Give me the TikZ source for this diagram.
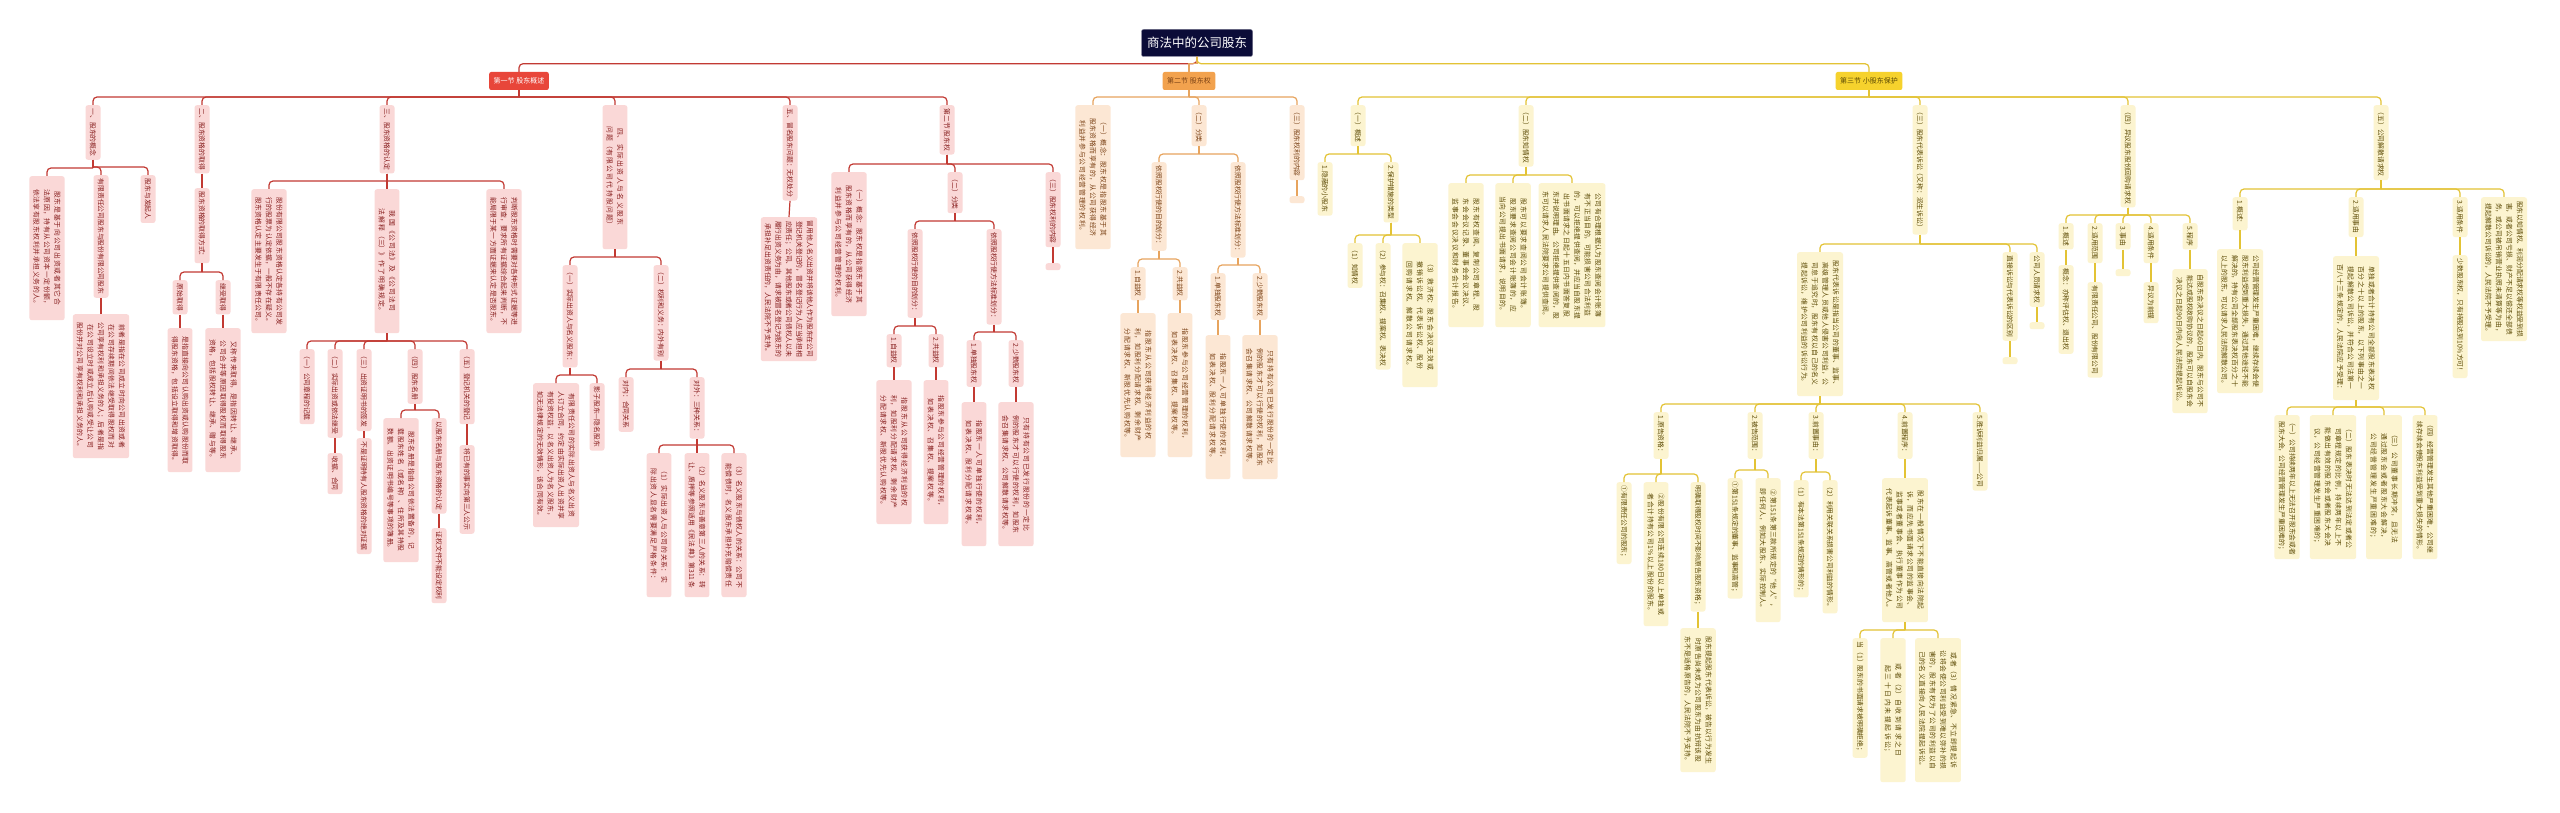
\documentclass[tikz,border=0pt]{standalone}
\usepackage{fontspec}
\setmainfont{Noto Sans CJK SC}
\XeTeXlinebreaklocale "zh"
\XeTeXlinebreakskip=0pt plus 1pt
\definecolor{pkF}{HTML}{FAD8D7}
\definecolor{pkT}{HTML}{861C1C}
\definecolor{rlC}{HTML}{C23A33}
\definecolor{h1F}{HTML}{E8463A}
\definecolor{ogF}{HTML}{FCE7D4}
\definecolor{ogT}{HTML}{7A4115}
\definecolor{olC}{HTML}{E7A45E}
\definecolor{h2F}{HTML}{F2A24E}
\definecolor{ylF}{HTML}{FCF4D0}
\definecolor{ylT}{HTML}{5C4A05}
\definecolor{ylC}{HTML}{E3C335}
\definecolor{h3F}{HTML}{F6D22D}
\definecolor{rootF}{HTML}{0B0C38}
\tikzset{
  nb/.style={rotate=-90, anchor=west, rounded corners=2.5pt, inner xsep=3.5pt, inner ysep=4pt,
    minimum height=15pt, font=\fontsize{6.8}{10.5}\selectfont},
  wide/.style={text width=137pt, align=center},
  pk/.style={nb, fill=pkF, text=pkT}, pkw/.style={pk, wide},
  og/.style={nb, fill=ogF, text=ogT}, ogw/.style={og, wide},
  yl/.style={nb, fill=ylF, text=ylT}, ylw/.style={yl, wide},
  hd/.style={rounded corners=2pt, inner xsep=4.5pt, inner ysep=3pt, minimum height=18pt,
    font=\fontsize{7}{8}\selectfont},
  rl/.style={draw=rlC, line width=1.2pt},
  oll/.style={draw=olC, line width=1.2pt},
  yll/.style={draw=ylC, line width=1.2pt},
}
\newcommand\lnk[3][rl]{%
  \coordinate (tmpb) at ([yshift=8pt]#3.west);
  \draw[#1] (#2) -- (#2 |- tmpb);
  \draw[#1, rounded corners=4pt] (#2 |- tmpb) -| (#3.west);}
\newcommand\lnks[3][rl]{\draw[#1] (#2) -- (#3.west);}
\newcommand\secTwo[4]{%
  \node[#2] (c1) at (1093,105) {（一）概念：股东权是指股东基于其股东资格而享有的，从公司获得经济利益并参与公司经营管理的权利。};
  \node[#1] (c2) at (1199,105) {（二）分类};
  \node[#1] (c3) at (1297,105) {（三）股东权利的内容};
  \node[#1] (c3e) at (1297,196) {};
  \node[#1] (c21) at (1159,162) {依照股权行使的目的划分：};
  \node[#1] (c22) at (1238,162) {依照股权行使方法标准划分：};
  \node[#1] (c211) at (1138,267) {1.自益权};
  \node[#2] (c211a) at (1138,313) {指股东从公司获得经济利益的权利，如股利分配请求权、剩余财产分配请求权、新股优先认购权等。};
  \node[#1] (c212) at (1180,267) {2.共益权};
  \node[#2] (c212a) at (1180,313) {指股东参与公司经营管理的权利，如表决权、召集权、提案权等。};
  \node[#1] (c221) at (1218,273) {1.单独股东权};
  \node[#2] (c221a) at (1218,335) {指股东一人可单独行使的权利，如表决权、股利分配请求权等。};
  \node[#1] (c222) at (1260,273) {2.少数股东权};
  \node[#2] (c222a) at (1260,335) {只有持有公司已发行股份的一定比例的股东才可以行使的权利，如股东会召集请求权、公司解散请求权等。};
  \lnk[#3]{top.#4}{c1}\lnk[#3]{top.#4}{c2}\lnk[#3]{top.#4}{c3}
  \lnks[#3]{c3.east}{c3e}
  \lnk[#3]{c2.east}{c21}\lnk[#3]{c2.east}{c22}
  \lnk[#3]{c21.east}{c211}\lnk[#3]{c21.east}{c212}
  \lnk[#3]{c22.east}{c221}\lnk[#3]{c22.east}{c222}
  \lnks[#3]{c211.east}{c211a}\lnks[#3]{c212.east}{c212a}
  \lnks[#3]{c221.east}{c221a}\lnks[#3]{c222.east}{c222a}
}
\begin{document}
\begin{tikzpicture}[x=1pt,y=-1pt]
\fill[white] (0,0) rectangle (2560,813);
\useasboundingbox (0,0) rectangle (2560,813);

% root and section headers
\node[rounded corners=2pt, fill=rootF, draw=rootF!60!white, text=white, inner xsep=5.5pt,
  minimum height=27pt, font=\fontsize{12.5}{14}\selectfont] (root) at (1197,43) {商法中的公司股东};
\node[hd, fill=h1F, text=white] (h1) at (519,81) {第一节 股东概述};
\node[hd, fill=h3F, text=ylT] (h3) at (1869,81) {第三节 小股东保护};
\begin{scope}[name prefix=o-]
  \node[hd, fill=h2F, text=ogT] (top) at (1189,81) {第二节 股东权};
\end{scope}
\draw[rl, rounded corners=4pt] (root.south) -- ++(0,7) -| (h1.north);
\draw[oll] (root.south) -- ++(0,7) -| (o-top.north);
\draw[yll, rounded corners=4pt] (root.south) -- ++(0,7) -| (h3.north);

% ===== Section 1 =====
\node[pk] (n1) at (93,105) {一、股东的概念};
\node[pkw] (n1a) at (47,176) {股东是基于向公司出资或者其它合法原因，持有从公司资本一定份额，依法享有股东权利并承担义务的人。};
\node[pk] (n1b) at (101,175) {有限责任公司股东与股份有限公司股东};
\node[pkw] (n1b1) at (101,314) {前者是指在公司成立时向公司出资或者在公司存续期间依法继受取得股权而对公司享有权利和承担义务的人；后者是指在公司设立时或成立后认购或受让公司股份并对公司享有权利和承担义务的人。};
\node[pk] (n1c) at (148,175) {股东与发起人};
\node[pk] (n2) at (202,105) {二、股东资格的取得};
\node[pk] (n2a) at (202,188) {股东资格的取得方式：};
\node[pk] (n2a1) at (180,280) {原始取得};
\node[pkw] (n2a1a) at (180,328) {是指直接向公司认购出资或认购股份而取得股东资格，包括设立取得和增资取得。};
\node[pk] (n2a2) at (223,280) {继受取得};
\node[pkw] (n2a2a) at (223,328) {又称传来取得，是指因转让、继承、公司合并等原因取得股权而取得股东资格，包括股权转让、继承、赠与等。};
\node[pk] (n3) at (387,105) {三、股东资格的认定};
\node[pkw] (n3a) at (269,189) {股份有限公司股东资格认定各持有公司发行的股票为认定依据，一般不存在疑义。股东资格认定主要发生于有限责任公司。};
\node[pkw] (n3b) at (387,189) {我国《公司法》及《公司法司法解释（三）》作了明确规定。};
\node[pkw] (n3c) at (504,189) {判断股东资格时需要对各种形式证据等进行审查，要求所有证据综合起来判断，不能局限于某一方面证据来认定是否股东。};
\node[pk] (n3b1) at (307,349) {（一）公司章程的记载};
\node[pk] (n3b2) at (335,349) {（二）实际出资或依法继受};
\node[pk] (n3b2a) at (335,453) {收据、合同};
\node[pk] (n3b3) at (364,349) {（三）出资证明书的签发};
\node[pk] (n3b3a) at (364,438) {不是证明持有人股东资格的绝对证据};
\node[pk] (n3b4) at (415,349) {（四）股东名册};
\node[pkw] (n3b4a) at (401,418) {股东名册是指由公司依法置备的，记载股东姓名（或名称）、住所及其持股数额、出资证明书编号等事项的簿册。};
\node[pk] (n3b4b) at (439,418) {以股东名册与股东资格的认定};
\node[pk] (n3b4c) at (439,528) {证权文件不能设定权利};
\node[pk] (n3b5) at (467,349) {（五）登记机关的登记};
\node[pk] (n3b5a) at (467,445) {将已有的事实向第三人公示};
\node[pkw] (n4) at (615,105) {四、实际出资人与名义股东问题（有限公司代持股问题）};
\node[pk] (n4a) at (570,265) {（一）实际出资人与名义股东：};
\node[pkw] (n4a1) at (556,383) {有限责任公司的实际出资人与名义出资人订立合同，约定由实际出资人出资并享有投资权益，以名义出资人为名义股东，如无法律规定的无效情形，该合同有效。};
\node[pk] (n4a2) at (597,383) {影子股东—隐名股东};
\node[pk] (n4b) at (661,265) {（二）权利和义务：内外有别};
\node[pk] (n4b1) at (626,377) {对内：合同关系};
\node[pk] (n4b2) at (697,377) {对外：三种关系：};
\node[pkw] (n4b2a) at (659,453) {（1）实际出资人与公司的关系：实际出资人显名需要满足严格条件：};
\node[pkw] (n4b2b) at (697,453) {（2）名义股东与善意第三人的关系：转让、质押等参照适用《民法典》第311条};
\node[pkw] (n4b2c) at (734,453) {（3）名义股东与债权人的关系：公司不能偿债时，名义股东承担补充赔偿责任};
\node[pk] (n5) at (790,105) {五、冒名股东问题：无权处分};
\node[pkw] (n5a) at (789,217) {冒用他人名义出资并将该他人作为股东在公司登记机关登记的，冒名登记行为人应当承担相应责任；公司、其他股东或者公司债权人以未履行出资义务为由，请求被冒名登记为股东的承担补足出资责任的，人民法院不予支持。};

\lnk{h1.south}{n1}\lnk{h1.south}{n2}\lnk{h1.south}{n3}\lnk{h1.south}{n4}\lnk{h1.south}{n5}
\lnk{n1.east}{n1a}\lnk{n1.east}{n1b}\lnk{n1.east}{n1c}\lnks{n1b.east}{n1b1}
\lnks{n2.east}{n2a}\lnk{n2a.east}{n2a1}\lnk{n2a.east}{n2a2}
\lnks{n2a1.east}{n2a1a}\lnks{n2a2.east}{n2a2a}
\lnk{n3.east}{n3a}\lnks{n3.east}{n3b}\lnk{n3.east}{n3c}
\lnk{n3b.east}{n3b1}\lnk{n3b.east}{n3b2}\lnk{n3b.east}{n3b3}\lnk{n3b.east}{n3b4}\lnk{n3b.east}{n3b5}
\lnks{n3b2.east}{n3b2a}\lnks{n3b3.east}{n3b3a}\lnks{n3b5.east}{n3b5a}
\lnk{n3b4.east}{n3b4a}\lnk{n3b4.east}{n3b4b}\lnks{n3b4b.east}{n3b4c}
\lnk{n4.east}{n4a}\lnk{n4.east}{n4b}
\lnk{n4a.east}{n4a1}\lnk{n4a.east}{n4a2}
\lnk{n4b.east}{n4b1}\lnk{n4b.east}{n4b2}
\lnk{n4b2.east}{n4b2a}\lnks{n4b2.east}{n4b2b}\lnk{n4b2.east}{n4b2c}
\lnks{n5.east}{n5a}

% pink copy of section 2 inside section 1
\begin{scope}[shift={(-244,67)}, name prefix=p-]
  \node[pk] (top) at (1191,38) {第二节 股东权};
  \secTwo{pk}{pkw}{rl}{east}
\end{scope}
\lnk{h1.south}{p-top}

% ===== Section 2 =====
\begin{scope}[name prefix=o-]
  \secTwo{og}{ogw}{oll}{south}
\end{scope}

% ===== Section 3 =====
\node[yl] (Y1) at (1358,105) {（一）概述};
\node[yl] (Y11) at (1325,162) {1.隐蔽的小股东};
\node[yl] (Y12) at (1391,162) {2.保护措施的类型};
\node[yl] (Y121) at (1355,243) {（1）知情权};
\node[yl] (Y122) at (1383,243) {（2）参与权：召集权、提案权、表决权};
\node[ylw] (Y123) at (1420,243) {（3）救济权：股东会决议无效或撤销诉讼权、代表诉讼权、股份回购请求权、解散公司请求权。};
\node[yl] (Y2) at (1526,105) {（二）股东知情权};
\node[ylw] (Y21) at (1466,183) {股东有权查阅、复制公司章程、股东会会议记录、董事会会议决议、监事会会议决议和财务会计报告。};
\node[ylw] (Y22) at (1513,183) {股东可以要求查阅公司会计账簿。股东要求查阅公司会计账簿的，应当向公司提出书面请求，说明目的。};
\node[ylw] (Y23) at (1572,183) {公司有合理根据认为股东查阅会计账簿有不正当目的，可能损害公司合法利益的，可以拒绝提供查阅，并应当自股东提出书面请求之日起十五日内书面答复股东并说明理由。公司拒绝提供查阅的，股东可以请求人民法院要求公司提供查阅。};
\node[yl] (Y3) at (1920,105) {（三）股东代表诉讼（又称：派生诉讼）};
\node[ylw] (Y31) at (1820,252) {股东代表诉讼是指当公司的董事、监事、高级管理人员或他人侵害公司利益，公司怠于追究时，股东有权以自己的名义提起诉讼，维护公司利益的诉讼行为。};
\node[yl] (Y32) at (2010,252) {直接诉讼与代表诉讼的区别};
\node[yl] (Y32e) at (2010,357) {};
\node[yl] (Y33) at (2037,252) {公司人员请求权};
\node[yl] (Y33e) at (2037,322) {};
\node[yl] (Z1) at (1661,412) {1.原告资格：};
\node[yl] (Z11) at (1624,482) {①有限责任公司的股东；};
\node[ylw] (Z12) at (1656,482) {②股份有限公司连续180日以上单独或者合计持有公司1\%以上股份的股东。};
\node[yl] (Z13) at (1698,482) {明确取得股权时间不影响原告股东资格；};
\node[ylw] (Z13a) at (1698,628) {股东提起股东代表诉讼，被告以行为发生时原告尚未成为公司股东为由抗辩该股东不是适格原告的，人民法院不予支持。};
\node[yl] (Z2) at (1755,412) {2.被告范围：};
\node[yl] (Z21) at (1735,478) {①第151条规定的董事、监事和高管；};
\node[ylw] (Z22) at (1768,478) {②第151条第三款所规定的“他人”，即任何人，例如大股东、实际控制人。};
\node[yl] (Z3) at (1816,412) {3.前置事由：};
\node[yl] (Z31) at (1801,480) {（1）有本法第151条规定的情形的；};
\node[yl] (Z32) at (1830,480) {（2）利用关联关系损害公司利益的情形。};
\node[yl] (Z4) at (1905,412) {4.前置程序：};
\node[ylw] (Z4a) at (1905,478) {股东在一般情况下不能直接向法院起诉，而应先书面请求公司的监事会、监事或者董事会、执行董事作为公司代表起诉董事、监事、高管或者他人。};
\node[yl] (Z41) at (1860,638) {当（1）股东的书面请求被明确拒绝；};
\node[ylw] (Z42) at (1893,638) {或者（2）自收到请求之日起三十日内未提起诉讼；};
\node[ylw] (Z43) at (1938,638) {或者（3）情况紧急、不立即提起诉讼将会使公司利益受到难以弥补的损害的，股东有权为了公司的利益以自己的名义直接向人民法院提起诉讼。};
\node[yl] (Z5) at (1980,412) {5.胜诉利益归属——公司};
\node[yl] (Y4) at (2128,105) {（四）异议股东股份回购请求权};
\node[yl] (Y41) at (2066,223) {1.概述};
\node[yl] (Y41a) at (2066,265) {概念：亦称评估权、退出权};
\node[yl] (Y42) at (2095,223) {2.适用范围};
\node[yl] (Y42a) at (2095,282) {有限责任公司、股份有限公司};
\node[yl] (Y43) at (2123,223) {3.事由};
\node[yl] (Y43a) at (2123,269) {};
\node[yl] (Y44) at (2151,223) {4.适用条件};
\node[yl] (Y44a) at (2151,282) {异议为前提};
\node[yl] (Y45) at (2190,223) {5.程序};
\node[ylw] (Y45a) at (2190,269) {自股东会决议之日起60日内，股东与公司不能达成股权收购协议的，股东可以自股东会决议之日起90日内向人民法院提起诉讼。};
\node[yl] (Y5) at (2381,105) {（五）公司解散请求权};
\node[yl] (Y51) at (2240,197) {1.概述：};
\node[ylw] (Y51a) at (2240,249) {公司经营管理发生严重困难，继续存续会使股东利益受到重大损失，通过其他途径不能解决的，持有公司全部股东表决权百分之十以上的股东，可以请求人民法院解散公司。};
\node[yl] (Y52) at (2356,197) {2.适用事由};
\node[ylw] (Y52a) at (2356,256) {单独或者合计持有公司全部股东表决权百分之十以上的股东，以下列事由之一提起解散公司诉讼，并符合公司法第一百八十三条规定的，人民法院应予受理：};
\node[ylw] (Y521) at (2287,415) {（一）公司持续两年以上无法召开股东会或者股东大会，公司经营管理发生严重困难的；};
\node[ylw] (Y522) at (2333,415) {（二）股东表决时无法达到法定或者公司章程规定的比例，持续两年以上不能做出有效的股东会或者股东大会决议，公司经营管理发生严重困难的；};
\node[ylw] (Y523) at (2384,415) {（三）公司董事长期冲突，且无法通过股东会或者股东大会解决，公司经营管理发生严重困难的；};
\node[ylw] (Y524) at (2425,415) {（四）经营管理发生其他严重困难，公司继续存续会使股东利益受到重大损失的情形。};
\node[yl] (Y53) at (2460,197) {3.适用条件};
\node[yl] (Y53a) at (2460,255) {少数股东权，只有持股达到10\%方可！};
\node[ylw] (Y54) at (2504,197) {股东以知情权、利润分配请求权等权益受到损害，或者公司亏损、财产不足以偿还全部债务，或公司被吊销营业执照未清算等为由，提起解散公司诉讼的，人民法院不予受理。};

\lnk[yll]{h3.south}{Y1}\lnk[yll]{h3.south}{Y2}\lnk[yll]{h3.south}{Y3}\lnk[yll]{h3.south}{Y4}\lnk[yll]{h3.south}{Y5}
\lnk[yll]{Y1.east}{Y11}\lnk[yll]{Y1.east}{Y12}
\lnk[yll]{Y12.east}{Y121}\lnk[yll]{Y12.east}{Y122}\lnk[yll]{Y12.east}{Y123}
\lnk[yll]{Y2.east}{Y21}\lnk[yll]{Y2.east}{Y22}\lnk[yll]{Y2.east}{Y23}
\lnk[yll]{Y3.east}{Y31}\lnk[yll]{Y3.east}{Y32}\lnk[yll]{Y3.east}{Y33}
\lnks[yll]{Y32.east}{Y32e}\lnks[yll]{Y33.east}{Y33e}
\lnk[yll]{Y31.east}{Z1}\lnk[yll]{Y31.east}{Z2}\lnk[yll]{Y31.east}{Z3}\lnk[yll]{Y31.east}{Z4}\lnk[yll]{Y31.east}{Z5}
\lnk[yll]{Z1.east}{Z11}\lnk[yll]{Z1.east}{Z12}\lnk[yll]{Z1.east}{Z13}\lnks[yll]{Z13.east}{Z13a}
\lnk[yll]{Z2.east}{Z21}\lnk[yll]{Z2.east}{Z22}
\lnk[yll]{Z3.east}{Z31}\lnk[yll]{Z3.east}{Z32}
\lnks[yll]{Z4.east}{Z4a}
\lnk[yll]{Z4a.east}{Z41}\lnk[yll]{Z4a.east}{Z42}\lnk[yll]{Z4a.east}{Z43}
\lnk[yll]{Y4.east}{Y41}\lnk[yll]{Y4.east}{Y42}\lnk[yll]{Y4.east}{Y43}\lnk[yll]{Y4.east}{Y44}\lnk[yll]{Y4.east}{Y45}
\lnks[yll]{Y41.east}{Y41a}\lnks[yll]{Y42.east}{Y42a}\lnks[yll]{Y43.east}{Y43a}\lnks[yll]{Y44.east}{Y44a}\lnks[yll]{Y45.east}{Y45a}
\lnk[yll]{Y5.east}{Y51}\lnk[yll]{Y5.east}{Y52}\lnk[yll]{Y5.east}{Y53}\lnk[yll]{Y5.east}{Y54}
\lnks[yll]{Y51.east}{Y51a}\lnks[yll]{Y52.east}{Y52a}\lnks[yll]{Y53.east}{Y53a}
\lnk[yll]{Y52a.east}{Y521}\lnk[yll]{Y52a.east}{Y522}\lnk[yll]{Y52a.east}{Y523}\lnk[yll]{Y52a.east}{Y524}
\end{tikzpicture}
\end{document}
